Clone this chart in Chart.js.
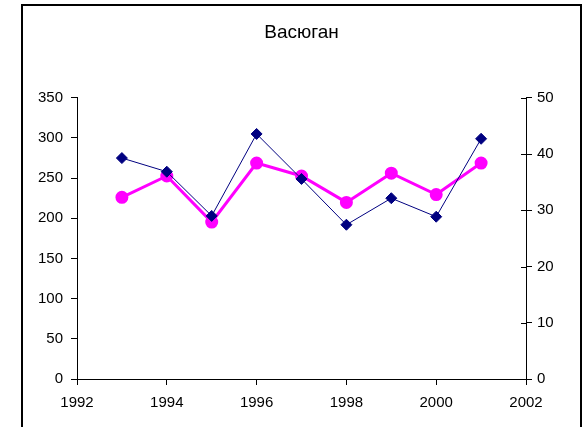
<!DOCTYPE html>
<html>
<head>
<meta charset="utf-8">
<script src="https://cdn.jsdelivr.net/npm/chart.js@4.4.0/dist/chart.umd.min.js"></script>
<style>
  html, body { margin: 0; padding: 0; background: #fff; }
  #wrap { position: relative; width: 585px; height: 427px; }
</style>
</head>
<body>
<div id="wrap"><canvas id="grafLinhas" width="585" height="427"></canvas></div>
<script>
const grafLinhas = document.getElementById('grafLinhas')

// годы наблюдений
const anos = [1993, 1994, 1995, 1996, 1997, 1998, 1999, 2000, 2001]
// левая ось (0-350)
const serieAzul = [275, 258, 203, 305, 249, 192, 225, 202, 299]
// правая ось (0-50)
const serieRosa = [32.3, 36.1, 27.9, 38.4, 36.1, 31.4, 36.6, 32.8, 38.4]

const titulo = 'Васюган'

const pontosAzul = anos.map((a, i) => ({ x: a, y: serieAzul[i] }))
const pontosRosa = anos.map((a, i) => ({ x: a, y: serieRosa[i] }))

Chart.defaults.color = '#000000'
Chart.defaults.font.family = 'Arial, "Liberation Sans", sans-serif'
Chart.defaults.font.size = 15

// рамка вокруг всей диаграммы, заголовок по центру рамки
const moldura = {
    id: 'moldura',
    afterLayout(chart) {
        if (chart.titleBlock) {
            chart.titleBlock.left = 22
            chart.titleBlock.right = 581
        }
    },
    beforeDraw(chart) {
        const ctx = chart.ctx
        ctx.save()
        ctx.strokeStyle = '#000'
        ctx.lineWidth = 2
        ctx.strokeRect(22, 5, 559, 440)
        ctx.restore()
    }
}

// засечки правой оси заходят внутрь области построения
const marcasDireita = {
    id: 'marcasDireita',
    afterDraw(chart) {
        const s = chart.scales.y2
        const ctx = chart.ctx
        ctx.save()
        ctx.strokeStyle = '#000'
        ctx.lineWidth = 1
        s.ticks.forEach(t => {
            const y = Math.round(s.getPixelForValue(t.value)) + 0.5
            ctx.beginPath()
            ctx.moveTo(s.left - 5, y)
            ctx.lineTo(s.left, y)
            ctx.stroke()
        })
        ctx.restore()
    }
}

new Chart(grafLinhas, {
    type: 'line',
    data: {
        datasets: [{
            data: pontosAzul,
            yAxisID: 'y',
            borderColor: '#000080',
            backgroundColor: '#000080',
            borderWidth: 1,
            pointStyle: 'rectRot',
            pointRadius: 5.5,
            pointHoverRadius: 5.5,
            tension: 0
        }, {
            data: pontosRosa,
            yAxisID: 'y2',
            borderColor: '#ff00ff',
            backgroundColor: '#ff00ff',
            borderWidth: 3,
            pointStyle: 'circle',
            pointRadius: 5,
            pointHoverRadius: 5,
            tension: 0
        }]
    },
    options: {
        responsive: false,
        animation: false,
        layout: { padding: { left: 0, right: 0, top: 0, bottom: 0 } },
        plugins: {
            legend: { display: false },
            tooltip: { enabled: false },
            title: {
                display: true,
                text: titulo,
                font: { size: 19, weight: 'normal' },
                color: '#000',
                padding: { top: 21, bottom: 54 }
            }
        },
        scales: {
            x: {
                type: 'linear',
                min: 1992,
                max: 2002,
                ticks: { stepSize: 2, padding: 9, maxRotation: 0, callback: v => String(v) },
                grid: { drawOnChartArea: false, drawTicks: true, tickLength: 6, color: '#000' },
                border: { display: true, color: '#000', width: 1 },
                afterFit: s => { s.height = 48 }
            },
            y: {
                position: 'left',
                min: 0,
                max: 350,
                ticks: { stepSize: 50, padding: 8 },
                grid: { drawOnChartArea: false, drawTicks: true, tickLength: 6, color: '#000' },
                border: { display: true, color: '#000', width: 1 },
                afterFit: s => { s.width = 77 }
            },
            y2: {
                position: 'right',
                min: 0,
                max: 50,
                ticks: { stepSize: 10, padding: 5 },
                grid: { drawOnChartArea: false, drawTicks: true, tickLength: 6, color: '#000' },
                border: { display: true, color: '#000', width: 1 },
                afterFit: s => { s.width = 59 }
            }
        }
    },
    plugins: [moldura, marcasDireita]
})
</script>
</body>
</html>
